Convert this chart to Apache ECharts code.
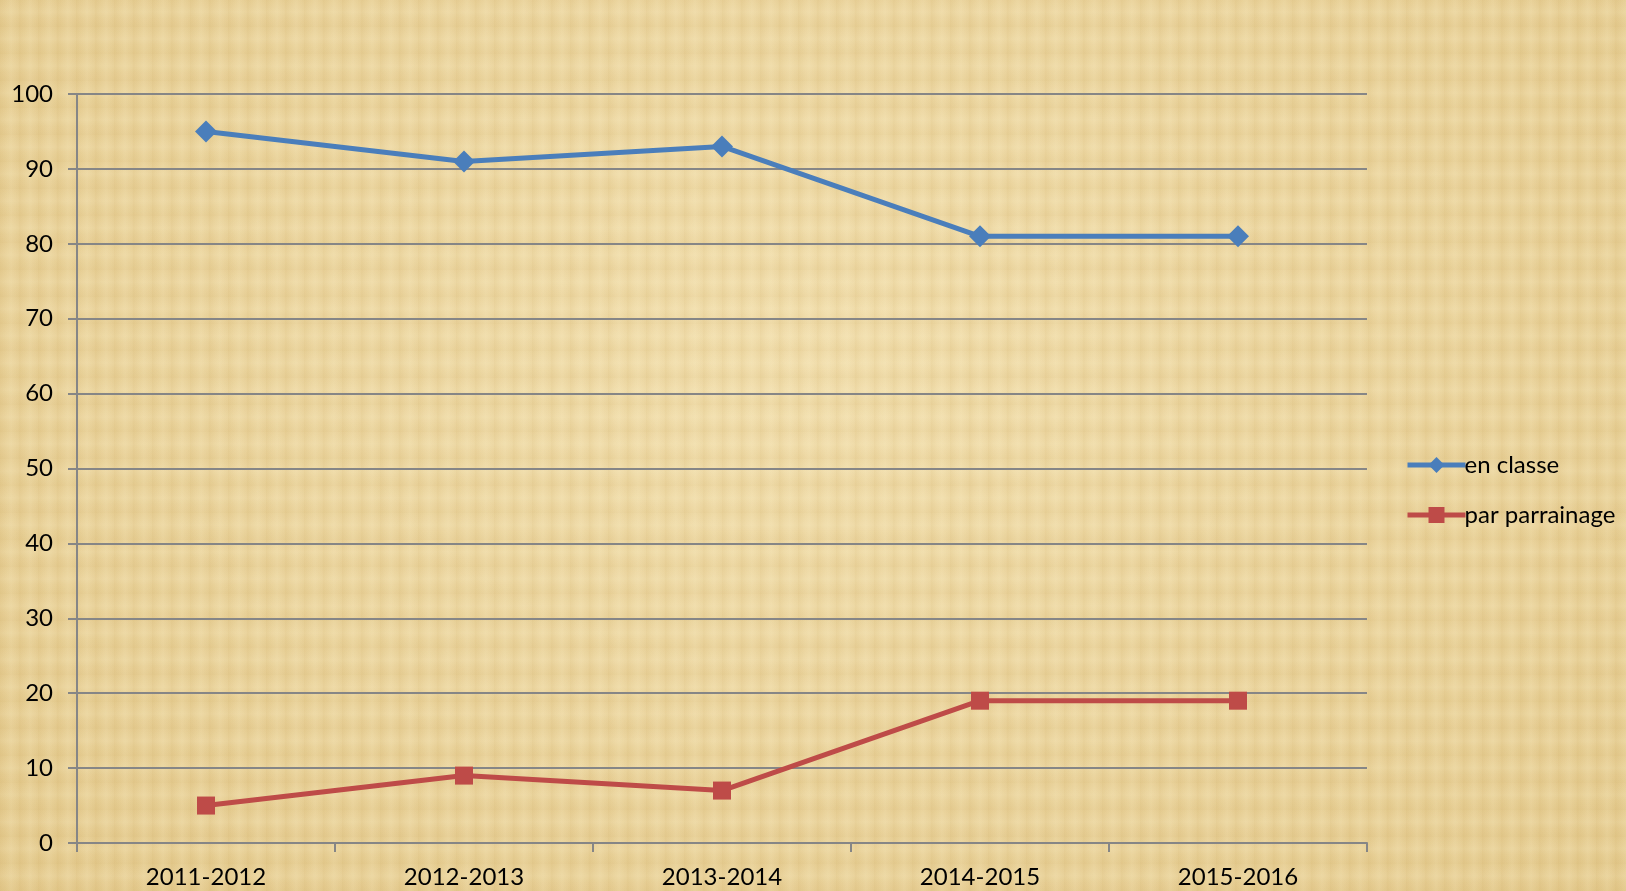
<!DOCTYPE html>
<html><head><meta charset="utf-8">
<style>
html,body{margin:0;padding:0;width:1626px;height:891px;overflow:hidden;}
body{background-color:#e9d39c;
background-image:
repeating-linear-gradient(90deg, rgba(190,150,70,0.10) 0px, rgba(190,150,70,0.0) 6px, rgba(255,245,210,0.12) 11px, rgba(190,150,70,0.05) 19px),
repeating-linear-gradient(0deg, rgba(190,150,70,0.08) 0px, rgba(255,245,210,0.0) 9px, rgba(255,245,210,0.14) 15px, rgba(190,150,70,0.04) 27px),
radial-gradient(ellipse at 50% 40%, rgba(255,240,200,0.35), rgba(210,170,90,0.2));}
#c{width:1626px;height:891px;}
</style>
<script src="https://cdn.jsdelivr.net/npm/echarts@6/dist/echarts.min.js"></script>
</head><body><div id="c"></div>
<script>
const categories = ['2011-2012','2012-2013','2013-2014','2014-2015','2015-2016'];
const enClasse = [95, 91, 93, 81, 81];
const parParrainage = [5, 9, 7, 19, 19];
const seriesNames = ['en classe','par parrainage'];

const chart = echarts.init(document.getElementById('c'), null, {renderer:'canvas'});
const font = 'Lato, Open Sans, sans-serif';
chart.setOption({
  backgroundColor: 'transparent',
  animation: false,
  grid: {left: 77, right: 259, top: 94, bottom: 48, containLabel: false},
  legend: {
    orient: 'vertical', left: 1400, top: 448, itemWidth: 58, itemHeight: 20, itemGap: 26,
    lineStyle: {width: 5},
    textStyle: {fontFamily: font, fontSize: 24, color: '#000', padding:[0,0,0,-6]},
    data: seriesNames
  },
  xAxis: {
    type: 'category', data: categories, boundaryGap: true,
    axisLine: {lineStyle: {color: '#868686', width: 2}},
    axisTick: {show: true, length: 9, lineStyle: {color: '#868686', width: 2}},
    axisLabel: {fontFamily: font, fontSize: 24, color: '#000', margin: 22}
  },
  yAxis: {
    type: 'value', min: 0, max: 100, interval: 10,
    axisLine: {show: true, lineStyle: {color: '#868686', width: 2}},
    axisTick: {show: true, length: 9, lineStyle: {color: '#868686', width: 2}},
    axisLabel: {fontFamily: font, fontSize: 24, color: '#000', margin: 24},
    splitLine: {lineStyle: {color: '#868686', width: 2}}
  },
  series: [
    {name: seriesNames[0], type: 'line', data: enClasse, symbol: 'diamond', symbolSize: 22,
     lineStyle: {color: '#4a7ebb', width: 5}, itemStyle: {color: '#4a7ebb'}},
    {name: seriesNames[1], type: 'line', data: parParrainage, symbol: 'rect', symbolSize: 18,
     lineStyle: {color: '#be4b48', width: 5}, itemStyle: {color: '#be4b48'}}
  ]
});
</script></body></html>
